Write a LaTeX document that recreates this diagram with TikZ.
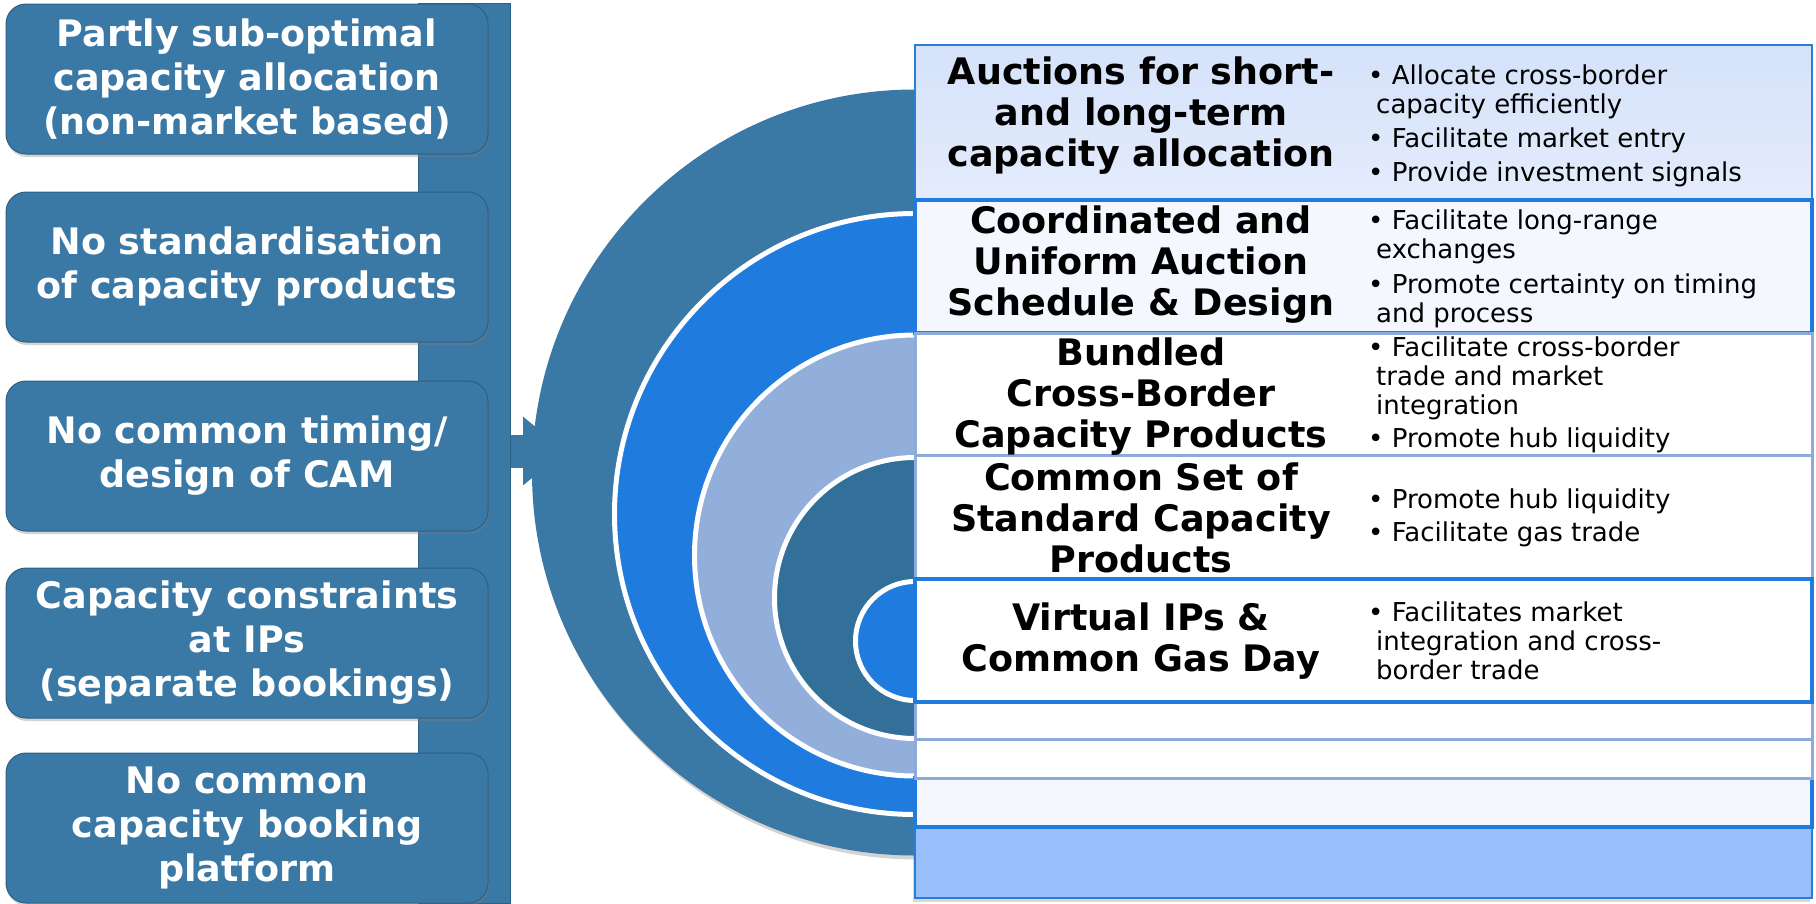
\documentclass[tikz,border=0pt]{standalone}
\usepackage{fontspec}
\setmainfont{DejaVu Sans}
\usetikzlibrary{arrows.meta,shadows}
\definecolor{steel}{rgb}{0.227,0.471,0.647}
\definecolor{ringblue}{rgb}{0.122,0.482,0.871}
\definecolor{ringpale}{rgb}{0.573,0.686,0.863}
\definecolor{ringdark}{rgb}{0.196,0.435,0.6}
\definecolor{rowedge}{rgb}{0.549,0.667,0.859}
\definecolor{rowline}{rgb}{0.176,0.49,0.824}
\definecolor{rowsky}{rgb}{0.835,0.886,0.98}
\definecolor{rowskyb}{rgb}{0.894,0.925,0.988}
\definecolor{rowmist}{rgb}{0.957,0.969,0.996}
\definecolor{rowbase}{rgb}{0.6,0.749,0.984}

\begin{document}
\begin{tikzpicture}[x=1pt,y=-1pt,
	issue/.style={rectangle,rounded corners=20pt,fill=steel,draw=steel!80!black,line width=1pt,minimum width=482pt,minimum height=150pt,text=white,align=center,font=\bfseries\fontsize{36.5}{44}\selectfont,drop shadow={opacity=0.35,shadow xshift=1pt,shadow yshift=-3pt}},
	ring/.style={circle,draw=white,line width=5pt,inner sep=0pt},
	row/.style={rectangle,anchor=north west,minimum width=897pt,inner sep=0pt,outer sep=0pt},
	heading/.style={align=center,font=\bfseries\fontsize{36.5}{41}\selectfont},
	gains/.style={anchor=west,align=left,inner sep=0pt,font=\fontsize{26}{29}\selectfont}]
	\useasboundingbox (0,0) rectangle (1816,903);
	\node [rectangle,fill=steel,draw=steel!80!black,line width=1pt,minimum width=92pt,minimum height=900pt] (spine) at (464,453) {};
	\coordinate (aim) at (565,451);
	\draw [steel,line width=33pt,-{Triangle[width=66pt,length=42pt]}] (spine.east |- aim) -- (aim);
	\node [issue] (p1) at (247,79) {Partly sub-optimal\\capacity allocation\\(non-market based)};
	\node [issue] (p2) at (247,267) {No standardisation\\of capacity products};
	\node [issue] (p3) at (247,456) {No common timing/\\design of CAM};
	\node [issue] (p4) at (247,643) {Capacity constraints\\at IPs\\(separate bookings)};
	\node [issue] (p5) at (247,828) {No common\\capacity booking\\platform};
	\node [circle,fill=steel,inner sep=0pt,minimum size=766pt,drop shadow={opacity=0.35,shadow xshift=2pt,shadow yshift=-4pt}] (target) at (915,472.5) {};
	\node [ring,fill=ringblue,minimum size=601pt] (ringa) at (915,514) {};
	\node [ring,fill=ringpale,minimum size=441pt] (ringb) at (915,555.5) {};
	\node [ring,fill=ringdark,minimum size=281pt] (ringc) at (915,598) {};
	\node [ring,fill=ringblue,minimum size=119pt] (ringd) at (915,641) {};
	\node [row,minimum height=71pt,fill=rowbase,draw=rowline,line width=2.5pt,drop shadow={opacity=0.3,shadow xshift=-2pt,shadow yshift=-4pt}] (base) at (915,827) {};
	\node [row,minimum height=49pt,fill=rowmist,draw=ringblue,line width=4pt] (gapa) at (915,778) {};
	\node [row,minimum height=39pt,fill=white,draw=rowedge,line width=3pt] (gapb) at (915,739) {};
	\node [row,minimum height=37pt,fill=white,draw=rowedge,line width=3pt] (gapc) at (915,702) {};
	\node [row,minimum height=155pt,top color=rowsky,bottom color=rowskyb,draw=rowline,line width=2.5pt] (auction) at (915,45) {};
	\node [row,minimum height=133pt,fill=rowmist,draw=ringblue,line width=4pt] (schedule) at (915,200) {};
	\node [row,minimum height=122pt,fill=white,draw=rowedge,line width=3pt] (bundle) at (915,333) {};
	\node [row,minimum height=124pt,fill=white,draw=rowedge,line width=3pt] (standard) at (915,455) {};
	\node [row,minimum height=123pt,fill=white,draw=ringblue,line width=4pt] (virtual) at (915,579) {};
	\node [heading] (t1) at (1141,116) {Auctions for short-\\and long-term\\capacity allocation};
	\node [heading] (t2) at (1141,265) {Coordinated and\\Uniform Auction\\Schedule \& Design};
	\node [heading] (t3) at (1141,397) {Bundled\\Cross-Border\\Capacity Products};
	\node [heading] (t4) at (1141,518) {Common Set of\\Standard Capacity\\Products};
	\node [heading] (t5) at (1141,641) {Virtual IPs \&\\Common Gas Day};
	\node [gains] (g1) at (1368,126) {\textbullet\ Allocate cross-border\\\hspace*{8pt}capacity efficiently\\[5pt]\textbullet\ Facilitate market entry\\[5pt]\textbullet\ Provide investment signals};
	\node [gains] (g2) at (1368,269) {\textbullet\ Facilitate long-range\\\hspace*{8pt}exchanges\\[6pt]\textbullet\ Promote certainty on timing\\\hspace*{8pt}and process};
	\node [gains] (g3) at (1368,395) {\textbullet\ Facilitate cross-border\\\hspace*{8pt}trade and market\\\hspace*{8pt}integration\\[4pt]\textbullet\ Promote hub liquidity};
	\node [gains] (g4) at (1368,518) {\textbullet\ Promote hub liquidity\\[4pt]\textbullet\ Facilitate gas trade};
	\node [gains] (g5) at (1368,641) {\textbullet\ Facilitates market\\\hspace*{8pt}integration and cross-\\\hspace*{8pt}border trade};
\end{tikzpicture}
\end{document}
